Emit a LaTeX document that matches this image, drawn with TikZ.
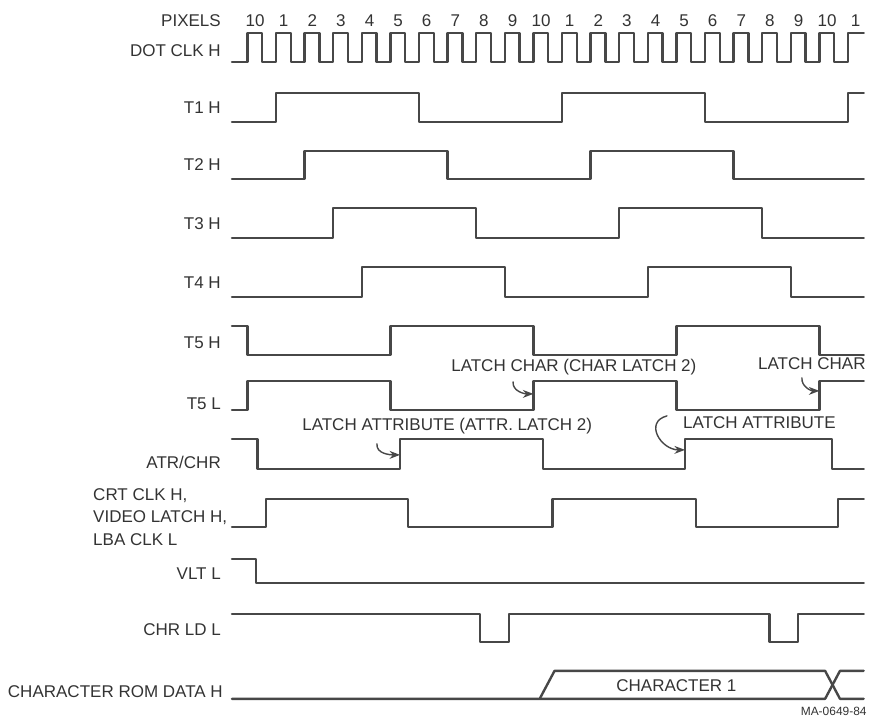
\documentclass[tikz,border=0pt]{standalone}
\usepackage{fontspec}
\setmainfont{Liberation Sans}
\usepackage{tikz}
\usetikzlibrary{arrows.meta}
\tikzset{
  every picture/.style={line join=round, line cap=round, >=Stealth},
  wave/.style={line width=1.7pt, draw=black!72},
  signame/.style={anchor=east, inner sep=0pt, text height=0.716em, text depth=0pt, text=black!80},
  notetext/.style={anchor=west, inner sep=0pt, text height=0.716em, text depth=0pt, text=black!80},
  latcharrow/.style={->, line width=1pt, draw=black!72},
}

\begin{document}
\begin{tikzpicture}[x=0.715cm, y=-0.025cm, font=\fontsize{12.1}{16}\selectfont]
\useasboundingbox (-8.65,0) rectangle (21.77,718);
% signal names
\node[signame] (pixels) at (-0.92,21) {PIXELS};
\node[signame] (dotclk) at (-0.92,51) {DOT CLK H};
\node[signame] (tone) at (-0.92,108) {T1 H};
\node[signame] (ttwo) at (-0.92,166) {T2 H};
\node[signame] (tthree) at (-0.92,225) {T3 H};
\node[signame] (tfour) at (-0.92,284) {T4 H};
\node[signame] (tfiveh) at (-0.92,344) {T5 H};
\node[signame] (tfivel) at (-0.92,405) {T5 L};
\node[signame] (atrchr) at (-0.92,464) {ATR/CHR};
\node[notetext, align=left, text height=, text depth=] (crtclk) at (-5.40,517) {CRT CLK H,\\VIDEO LATCH H,\\LBA CLK L};
\node[signame] (vlt) at (-0.92,575) {VLT L};
\node[signame] (chrld) at (-0.92,631) {CHR LD L};
\node[signame] (romdata) at (-0.85,693) {CHARACTER ROM DATA H};
% pixel numbers and dot clock
\foreach \k in {0,...,21} {
  \pgfmathtruncatemacro\pix{mod(\k+9,10)+1}
  \node[inner sep=0pt, text height=0.716em, text depth=0pt, text=black!80] (pix\k) at (\k+0.27,21) {\pix};
}
\draw[wave] (-0.54,62) \foreach \k in {0,...,20} { -| (\k,33) -| (\k+0.52,62) } -| (21,33) -- (21.55,33);
% waveforms
\draw[wave] (-0.54,122) -| (1,93) -| (6,122) -| (11,93) -| (16,122) -| (21,93) -- (21.55,93);
\draw[wave] (-0.54,179) -| (2,151) -| (7,179) -| (12,151) -| (17,179) -- (21.55,179);
\draw[wave] (-0.54,238) -| (3,208) -| (8,238) -| (13,208) -| (18,238) -- (21.55,238);
\draw[wave] (-0.54,297) -| (4,267) -| (9,297) -| (14,267) -| (19,297) -- (21.55,297);
\draw[wave] (-0.54,326) -| (0,355) -| (5,326) -| (10,355) -| (15,326) -| (20,355) -- (21.55,355);
\draw[wave] (-0.54,410) -| (0,381) -| (5,410) -| (10,381) -| (15,410) -| (20,381) -- (21.55,381);
\draw[wave] (-0.54,439) -| (0.36,469) -| (5.34,439) -| (10.34,469) -| (15.3,439) -| (20.45,469) -- (21.55,469);
\draw[wave] (-0.54,527) -| (0.65,499) -| (5.62,527) -| (10.67,499) -| (15.69,527) -| (20.65,499) -- (21.55,499);
\draw[wave] (-0.54,559) -| (0.3,583) -- (21.55,583);
\draw[wave] (-0.54,614) -| (8.14,642) -| (9.15,614) -| (18.25,642) -| (19.25,614) -- (21.55,614);
% character rom data bus
\draw[wave] (-0.54,699) -- (10.22,699) -- (10.74,671) -- (20.2,671) -- (20.72,699) -- (21.55,699);
\draw[wave] (10.22,699) -- (20.2,699) -- (20.72,671) -- (21.55,671);
\node[inner sep=0pt, text height=0.716em, text depth=0pt, text=black!80] (charone) at (15.0,687) {CHARACTER 1};
% latch notes
\node[notetext] (latchchartwo) at (7.12,367) {LATCH CHAR (CHAR LATCH 2)};
\node[notetext] (latchchar) at (17.85,365) {LATCH CHAR};
\node[notetext] (latchattrtwo) at (1.91,426) {LATCH ATTRIBUTE (ATTR. LATCH 2)};
\node[notetext] (latchattr) at (15.23,424) {LATCH ATTRIBUTE};
\coordinate (ca) at (9.29,382);
\coordinate (cb) at (10,394);
\coordinate (cc) at (19.39,378);
\coordinate (cd) at (20,391);
\coordinate (ce) at (4.53,444);
\coordinate (cf) at (5.34,455);
\coordinate (cg) at (14.67,416);
\coordinate (ch) at (15.3,450);
\draw[latcharrow] (ca) to[out=-95,in=180] (cb);
\draw[latcharrow] (cc) to[out=-95,in=180] (cd);
\draw[latcharrow] (ce) to[out=-95,in=180] (cf);
\draw[latcharrow] (cg) to[out=195,in=180,looseness=1.6] (ch);
\node[anchor=east, inner sep=0pt, font=\fontsize{8.5}{10}\selectfont, text=black!80] (macode) at (21.66,712) {MA-0649-84};
\end{tikzpicture}
\end{document}
